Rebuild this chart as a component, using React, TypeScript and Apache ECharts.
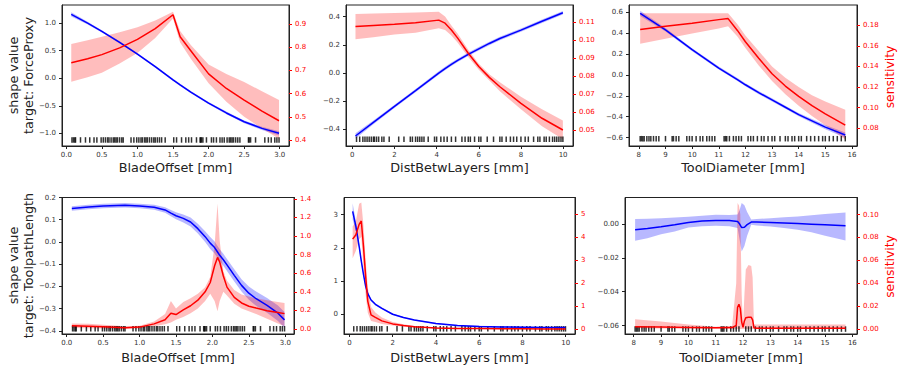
import React, { useEffect, useRef } from 'react';
import * as echarts from 'echarts';

// ---------- Rug (observed feature values) ----------
const rugBladeOffset = [0.08, 0.1, 0.12, 0.13, 0.2, 0.27, 0.33, 0.39, 0.43, 0.49, 0.52, 0.55, 0.58, 0.6, 0.63, 0.66, 0.68, 0.7, 0.72, 0.75, 0.78, 0.8, 0.91, 0.95, 0.99, 1.02, 1.05, 1.07, 1.1, 1.12, 1.14, 1.17, 1.2, 1.23, 1.25, 1.28, 1.31, 1.34, 1.39, 1.51, 1.55, 1.62, 1.68, 1.72, 1.76, 1.83, 1.88, 1.89, 1.9, 1.92, 1.97, 2.04, 2.07, 2.11, 2.16, 2.19, 2.22, 2.26, 2.29, 2.31, 2.33, 2.35, 2.38, 2.41, 2.44, 2.56, 2.57, 2.59, 2.66, 2.79, 2.84, 2.88, 2.93, 2.96, 2.99];
const rugDistBetwLayers = [0.2, 0.35, 0.5, 0.6, 0.7, 0.8, 0.9, 1.0, 1.05, 1.15, 1.25, 1.4, 1.5, 1.75, 2.2, 2.45, 2.75, 2.85, 3.0, 3.1, 3.2, 3.3, 3.4, 3.6, 3.9, 4.0, 4.2, 4.35, 4.5, 4.7, 4.9, 5.2, 5.35, 5.5, 5.6, 5.8, 6.0, 6.1, 6.4, 6.7, 7.0, 7.1, 7.3, 7.5, 7.65, 7.8, 8.0, 8.2, 8.35, 8.6, 8.8, 8.9, 9.1, 9.2, 9.35, 9.5, 9.6, 9.7, 9.8, 9.9, 9.99];
const rugToolDiameter = [8.05, 8.1, 8.15, 8.2, 8.3, 8.38, 8.45, 8.55, 8.65, 8.75, 9.0, 9.25, 9.3, 9.4, 9.5, 9.8, 9.9, 10.0, 10.15, 10.3, 10.4, 10.55, 10.65, 10.75, 10.85, 11.2, 11.25, 11.3, 11.4, 11.55, 11.65, 11.75, 11.85, 12.1, 12.2, 12.3, 12.45, 12.6, 12.7, 12.85, 13.0, 13.1, 13.3, 13.5, 13.6, 13.75, 13.85, 14.0, 14.1, 14.3, 14.45, 14.6, 14.75, 14.9, 15.0, 15.15, 15.3, 15.45, 15.6, 15.75];
const rugLevels = [-1.12, -0.47, -0.61, -0.39, -0.44, -0.062];

// ---------- Panel 1: BladeOffset -> ForceProxy ----------
const p1X = [0.07, 0.3, 0.5, 0.75, 1.0, 1.25, 1.5, 1.6, 1.75, 2.0, 2.25, 2.5, 2.75, 2.99];
const p1Blue = [1.16, 1.0, 0.85, 0.65, 0.44, 0.21, -0.03, -0.12, -0.25, -0.45, -0.63, -0.79, -0.91, -1.0];
const p1BlueLo = [1.12, 0.975, 0.83, 0.63, 0.42, 0.19, -0.05, -0.14, -0.27, -0.47, -0.655, -0.815, -0.94, -1.04];
const p1BlueHi = [1.2, 1.025, 0.87, 0.67, 0.46, 0.23, -0.01, -0.1, -0.23, -0.43, -0.605, -0.765, -0.88, -0.96];
const p1Red = [0.733, 0.75, 0.768, 0.797, 0.834, 0.88, 0.94, 0.845, 0.785, 0.685, 0.622, 0.572, 0.524, 0.483];
const p1RedLo = [0.651, 0.67, 0.69, 0.73, 0.775, 0.84, 0.924, 0.82, 0.75, 0.645, 0.565, 0.5, 0.45, 0.405];
const p1RedHi = [0.814, 0.83, 0.845, 0.865, 0.886, 0.915, 0.953, 0.87, 0.81, 0.725, 0.685, 0.65, 0.61, 0.572];

// ---------- Panel 2: DistBetwLayers -> ForceProxy ----------
const p2X = [0.15, 1, 2, 3, 4.1, 4.4, 4.7, 5, 5.5, 6, 6.5, 7, 8, 9, 9.99];
const p2Blue = [-0.447, -0.35, -0.237, -0.125, 0.0, 0.032, 0.062, 0.09, 0.133, 0.172, 0.21, 0.245, 0.305, 0.368, 0.428];
const p2BlueLo = [-0.467, -0.363, -0.249, -0.137, -0.012, 0.02, 0.05, 0.078, 0.121, 0.16, 0.198, 0.233, 0.293, 0.356, 0.416];
const p2BlueHi = [-0.427, -0.337, -0.225, -0.113, 0.012, 0.044, 0.074, 0.102, 0.145, 0.184, 0.222, 0.257, 0.317, 0.38, 0.44];
const p2Red = [0.1074, 0.108, 0.1087, 0.1095, 0.111, 0.1093, 0.1055, 0.101, 0.0926, 0.0852, 0.0792, 0.074, 0.0648, 0.0565, 0.05];
const p2RedLo = [0.1004, 0.1015, 0.103, 0.104, 0.1065, 0.1055, 0.1025, 0.0985, 0.0905, 0.0835, 0.0775, 0.0715, 0.0615, 0.052, 0.0448];
const p2RedHi = [0.1144, 0.1147, 0.115, 0.1153, 0.1157, 0.113, 0.108, 0.1035, 0.0945, 0.0868, 0.081, 0.0765, 0.0685, 0.0615, 0.0552];

// ---------- Panel 3: ToolDiameter -> ForceProxy ----------
const p3X = [8.05, 9, 10, 11, 11.35, 11.7, 12, 12.5, 13, 13.5, 14, 14.5, 15, 15.75];
const p3Blue = [0.587, 0.43, 0.24, 0.065, 0.01, -0.045, -0.095, -0.17, -0.24, -0.31, -0.38, -0.44, -0.5, -0.575];
const p3BlueLo = [0.562, 0.413, 0.225, 0.05, -0.005, -0.06, -0.11, -0.185, -0.255, -0.325, -0.395, -0.457, -0.52, -0.6];
const p3BlueHi = [0.612, 0.447, 0.255, 0.08, 0.025, -0.03, -0.08, -0.155, -0.225, -0.295, -0.365, -0.423, -0.48, -0.55];
const p3Red = [0.176, 0.179, 0.182, 0.1855, 0.1865, 0.175, 0.164, 0.148, 0.133, 0.121, 0.111, 0.102, 0.094, 0.083];
const p3RedLo = [0.162, 0.167, 0.172, 0.177, 0.179, 0.169, 0.158, 0.141, 0.126, 0.113, 0.102, 0.092, 0.083, 0.069];
const p3RedHi = [0.1917, 0.1917, 0.1917, 0.1917, 0.1917, 0.181, 0.17, 0.155, 0.14, 0.129, 0.12, 0.112, 0.106, 0.098];

// ---------- Panel 4: BladeOffset -> ToolpathLength ----------
const p4X = [0.07, 0.3, 0.5, 0.8, 1.0, 1.2, 1.35, 1.43, 1.5, 1.6, 1.7, 1.8, 1.9, 1.97, 2.03, 2.07, 2.1, 2.15, 2.2, 2.3, 2.4, 2.5, 2.6, 2.75, 2.9, 2.99];
const p4Blue = [0.151, 0.157, 0.162, 0.165, 0.162, 0.156, 0.144, 0.13, 0.118, 0.106, 0.09, 0.06, 0.024, -0.005, -0.025, -0.045, -0.06, -0.08, -0.103, -0.15, -0.195, -0.23, -0.255, -0.285, -0.32, -0.35];
const p4BlueLo = [0.141, 0.147, 0.152, 0.155, 0.152, 0.145, 0.132, 0.116, 0.102, 0.088, 0.07, 0.038, 0.0, -0.032, -0.052, -0.072, -0.087, -0.107, -0.13, -0.178, -0.223, -0.26, -0.287, -0.318, -0.355, -0.385];
const p4BlueHi = [0.161, 0.167, 0.172, 0.175, 0.172, 0.167, 0.156, 0.144, 0.134, 0.124, 0.11, 0.082, 0.048, 0.022, 0.002, -0.018, -0.033, -0.053, -0.076, -0.122, -0.167, -0.2, -0.223, -0.252, -0.285, -0.315];
const p4Red = [0.036, 0.03, 0.025, 0.012, 0.02, 0.055, 0.1, 0.17, 0.155, 0.205, 0.25, 0.31, 0.4, 0.5, 0.68, 0.77, 0.72, 0.57, 0.45, 0.34, 0.28, 0.245, 0.225, 0.197, 0.178, 0.165];
const p4RedLo = [0.01, 0.008, 0.006, 0.0, 0.005, 0.03, 0.05, 0.07, 0.1, 0.13, 0.17, 0.22, 0.3, 0.38, 0.3, 0.19, 0.3, 0.4, 0.36, 0.27, 0.22, 0.19, 0.16, 0.11, 0.06, 0.03];
const p4RedHi = [0.06, 0.055, 0.045, 0.03, 0.035, 0.08, 0.16, 0.3, 0.22, 0.29, 0.33, 0.38, 0.45, 0.56, 0.9, 1.35, 0.95, 0.62, 0.52, 0.42, 0.37, 0.35, 0.33, 0.31, 0.29, 0.28];

// ---------- Panel 5: DistBetwLayers -> ToolpathLength ----------
const p5X = [0.15, 0.3, 0.45, 0.55, 0.65, 0.75, 0.85, 1.0, 1.2, 1.5, 2, 2.5, 3, 4, 5, 6, 7, 8, 9, 9.99];
const p5Blue = [3.1, 2.65, 2.05, 1.6, 1.2, 0.85, 0.62, 0.43, 0.3, 0.18, 0.0, -0.1, -0.17, -0.28, -0.34, -0.37, -0.385, -0.39, -0.4, -0.4];
const p5BlueLo = [2.85, 2.5, 1.97, 1.54, 1.15, 0.81, 0.58, 0.39, 0.27, 0.15, -0.02, -0.12, -0.19, -0.3, -0.36, -0.39, -0.405, -0.41, -0.42, -0.42];
const p5BlueHi = [3.35, 2.8, 2.13, 1.66, 1.25, 0.89, 0.66, 0.47, 0.33, 0.21, 0.02, -0.08, -0.15, -0.26, -0.32, -0.35, -0.365, -0.37, -0.38, -0.38];
const p5Red = [3.91, 4.1, 4.55, 4.7, 3.6, 2.3, 1.2, 0.61, 0.5, 0.35, 0.22, 0.15, 0.1, 0.04, 0.02, 0.015, 0.01, 0.005, 0.003, 0.002];
const p5RedLo = [3.08, 3.4, 3.9, 4.0, 2.7, 1.5, 0.7, 0.35, 0.3, 0.22, 0.15, 0.1, 0.07, 0.02, 0.01, 0.005, 0.003, 0.001, 0.0, 0.0];
const p5RedHi = [4.46, 4.7, 5.45, 5.5, 4.5, 3.0, 1.8, 0.95, 0.72, 0.5, 0.3, 0.2, 0.13, 0.06, 0.03, 0.02, 0.015, 0.01, 0.01, 0.01];

// ---------- Panel 6: ToolDiameter -> ToolpathLength ----------
const p6X = [8.05, 8.5, 9, 9.5, 10, 10.5, 11, 11.5, 11.8, 11.87, 11.95, 12.05, 12.15, 12.3, 12.5, 13, 13.5, 14, 14.5, 15, 15.75];
const p6Blue = [-0.0035, -0.0027, -0.0017, -0.0005, 0.0008, 0.0017, 0.002, 0.0019, 0.0014, 0.0, -0.0022, -0.002, -0.0005, 0.001, 0.001, 0.0008, 0.0005, 0.0002, -0.0002, -0.0006, -0.0012];
const p6BlueLo = [-0.01, -0.0085, -0.0061, -0.0045, -0.0022, -0.0015, -0.0012, -0.0014, -0.0025, -0.009, -0.0163, -0.013, -0.007, -0.0005, -0.001, -0.0016, -0.0025, -0.0035, -0.005, -0.0071, -0.0098];
const p6BlueHi = [0.0028, 0.003, 0.0033, 0.0037, 0.0042, 0.0048, 0.0053, 0.0052, 0.0055, 0.008, 0.0122, 0.011, 0.007, 0.0025, 0.0028, 0.0033, 0.0038, 0.0043, 0.005, 0.0058, 0.0067];
const p6RedX = [8.05, 9, 10, 11, 11.6, 11.75, 11.8, 11.85, 11.9, 11.95, 12.0, 12.05, 12.1, 12.2, 12.3, 12.35, 12.4, 12.5, 13, 14, 15, 15.75];
const p6Red = [0.002, 0.0017, 0.0013, 0.001, 0.0012, 0.003, 0.019, 0.0215, 0.018, 0.006, 0.0015, 0.007, 0.0098, 0.0102, 0.0102, 0.008, 0.001, 0.0006, 0.0006, 0.0006, 0.0006, 0.0006];
const p6RedLo = [0.0006, 0.0005, 0.0003, 0.0002, 0.0, 0.0, 0.0, 0.0, 0.0, 0.0, 0.0, 0.0, 0.0, 0.0, 0.0, 0.0, 0.0, 0.0, 0.0, 0.0, 0.0, 0.0];
const p6RedHi = [0.0085, 0.0065, 0.004, 0.002, 0.0025, 0.04, 0.11, 0.108, 0.1, 0.03, 0.003, 0.03, 0.052, 0.056, 0.055, 0.045, 0.004, 0.004, 0.004, 0.004, 0.004, 0.004];

// ---------- Tick values ----------
const xTicksBlade = [0, 0.5, 1, 1.5, 2, 2.5, 3];
const xTicksDist = [0, 2, 4, 6, 8, 10];
const xTicksTool = [8, 9, 10, 11, 12, 13, 14, 15, 16];
const yLeftTicks1 = [-1, -0.5, 0, 0.5, 1];
const yRightTicks1 = [0.4, 0.5, 0.6, 0.7, 0.8, 0.9];
const yLeftTicks2 = [-0.4, -0.2, 0, 0.2, 0.4];
const yRightTicks2 = [0.05, 0.06, 0.07, 0.08, 0.09, 0.1, 0.11];
const yLeftTicks3 = [-0.6, -0.4, -0.2, 0, 0.2, 0.4, 0.6];
const yRightTicks3 = [0.08, 0.1, 0.12, 0.14, 0.16, 0.18];
const yLeftTicks4 = [-0.4, -0.3, -0.2, -0.1, 0, 0.1, 0.2];
const yRightTicks4 = [0, 0.2, 0.4, 0.6, 0.8, 1.0, 1.2, 1.4];
const yLeftTicks5 = [0, 1, 2, 3];
const yRightTicks5 = [0, 1, 2, 3, 4, 5];
const yLeftTicks6 = [-0.06, -0.04, -0.02, 0];
const yRightTicks6 = [0, 0.02, 0.04, 0.06, 0.08, 0.1];

const FONT = 'DejaVu Sans';

function fmt(dec: number) {
  return (v: number) => {
    const s = Math.abs(v).toFixed(dec);
    return (v < 0 && parseFloat(s) !== 0 ? '\u2212' : '') + s;
  };
}

function pairs(xs: number[], ys: number[]) {
  return xs.map((x, i) => [x, ys[i]]);
}

export default function App() {
  const ref = useRef<HTMLDivElement>(null);

  useEffect(() => {
    const chart = echarts.init(ref.current!, null, { renderer: 'svg' });

    const panels = [
      { x: p1X, b: p1Blue, bl: p1BlueLo, bh: p1BlueHi, rx: p1X, r: p1Red, rl: p1RedLo, rh: p1RedHi, rug: rugBladeOffset,
        xt: xTicksBlade, xd: 1, ylt: yLeftTicks1, yld: 1, yrt: yRightTicks1, yrd: 1 },
      { x: p2X, b: p2Blue, bl: p2BlueLo, bh: p2BlueHi, rx: p2X, r: p2Red, rl: p2RedLo, rh: p2RedHi, rug: rugDistBetwLayers,
        xt: xTicksDist, xd: 0, ylt: yLeftTicks2, yld: 1, yrt: yRightTicks2, yrd: 2 },
      { x: p3X, b: p3Blue, bl: p3BlueLo, bh: p3BlueHi, rx: p3X, r: p3Red, rl: p3RedLo, rh: p3RedHi, rug: rugToolDiameter,
        xt: xTicksTool, xd: 0, ylt: yLeftTicks3, yld: 1, yrt: yRightTicks3, yrd: 2 },
      { x: p4X, b: p4Blue, bl: p4BlueLo, bh: p4BlueHi, rx: p4X, r: p4Red, rl: p4RedLo, rh: p4RedHi, rug: rugBladeOffset,
        xt: xTicksBlade, xd: 1, ylt: yLeftTicks4, yld: 1, yrt: yRightTicks4, yrd: 1 },
      { x: p5X, b: p5Blue, bl: p5BlueLo, bh: p5BlueHi, rx: p5X, r: p5Red, rl: p5RedLo, rh: p5RedHi, rug: rugDistBetwLayers,
        xt: xTicksDist, xd: 0, ylt: yLeftTicks5, yld: 0, yrt: yRightTicks5, yrd: 0 },
      { x: p6X, b: p6Blue, bl: p6BlueLo, bh: p6BlueHi, rx: p6RedX, r: p6Red, rl: p6RedLo, rh: p6RedHi, rug: rugToolDiameter,
        xt: xTicksTool, xd: 0, ylt: yLeftTicks6, yld: 2, yrt: yRightTicks6, yrd: 2 },
    ];

    // layout (pixels) and axis extents
    const grids = [
      { left: 62, top: 5, width: 227, height: 141 },
      { left: 346, top: 5, width: 227, height: 141 },
      { left: 629, top: 5, width: 228, height: 141 },
      { left: 62, top: 197.5, width: 232, height: 136.5 },
      { left: 344, top: 197.5, width: 231, height: 136.5 },
      { left: 625, top: 197.5, width: 232, height: 136.5 },
    ];
    const xRange = [[-0.06, 3.13], [-0.3, 10.47], [7.63, 16.19], [-0.065, 3.12], [-0.25, 10.43], [7.68, 16.17]];
    const yLeftRange = [[-1.23, 1.33], [-0.518, 0.483], [-0.68, 0.667], [-0.4135, 0.2], [-0.595, 3.52], [-0.0649, 0.0155]];
    const yRightRange = [[0.374, 0.982], [0.0411, 0.1194], [0.0628, 0.1997], [-0.054, 1.414], [-0.22, 5.72], [-0.0044, 0.1149]];

    const axisColor = '#222';
    const xAxis: any[] = [];
    const yAxis: any[] = [];
    const series: any[] = [];

    panels.forEach((p, i) => {
      xAxis.push({
        type: 'value', gridIndex: i, min: xRange[i][0], max: xRange[i][1],
        axisLine: { show: true, onZero: false, lineStyle: { color: axisColor, width: 1 } },
        axisTick: { show: true, length: 3, lineStyle: { color: axisColor }, customValues: p.xt },
        axisLabel: { show: true, customValues: p.xt, formatter: fmt(p.xd), fontSize: 7, fontFamily: FONT, color: '#333', margin: 5 },
        splitLine: { show: false },
      });
      yAxis.push({
        type: 'value', gridIndex: i, position: 'left', min: yLeftRange[i][0], max: yLeftRange[i][1],
        axisLine: { show: true, onZero: false, lineStyle: { color: axisColor, width: 1 } },
        axisTick: { show: true, length: 3, lineStyle: { color: axisColor }, customValues: p.ylt },
        axisLabel: { show: true, customValues: p.ylt, formatter: fmt(p.yld), fontSize: 7, fontFamily: FONT, color: '#333', margin: 6 },
        splitLine: { show: false },
      });
      yAxis.push({
        type: 'value', gridIndex: i, position: 'right', min: yRightRange[i][0], max: yRightRange[i][1],
        axisLine: { show: true, onZero: false, lineStyle: { color: axisColor, width: 1 } },
        axisTick: { show: true, length: 3, lineStyle: { color: '#ff0000' }, customValues: p.yrt },
        axisLabel: { show: true, customValues: p.yrt, formatter: fmt(p.yrd), fontSize: 7, fontFamily: FONT, color: '#ff0000', margin: 6 },
        splitLine: { show: false },
      });

      const yl = 2 * i;
      const yr = 2 * i + 1;
      const band = (xs: number[], lo: number[], hi: number[], yIdx: number, color: string) => ({
        type: 'custom', xAxisIndex: i, yAxisIndex: yIdx, silent: true, clip: true,
        data: [[xs[0], lo[0]]],
        renderItem: (_params: any, api: any) => {
          const pts: number[][] = [];
          for (let k = 0; k < xs.length; k++) pts.push(api.coord([xs[k], hi[k]]));
          for (let k = xs.length - 1; k >= 0; k--) pts.push(api.coord([xs[k], lo[k]]));
          return { type: 'polygon', shape: { points: pts }, style: { fill: color } };
        },
      });
      series.push(band(p.x, p.bl, p.bh, yl, 'rgba(0,0,255,0.28)'));
      series.push({
        type: 'line', xAxisIndex: i, yAxisIndex: yl, data: pairs(p.x, p.b), symbol: 'none', silent: true,
        lineStyle: { color: '#0000ff', width: 1.5 }, smooth: false,
      });
      series.push({
        type: 'scatter', xAxisIndex: i, yAxisIndex: yl, data: p.rug.map((v) => [v, rugLevels[i]]),
        symbol: 'rect', symbolSize: [1.5, 5.5], itemStyle: { color: '#000' }, silent: true,
      });
      series.push(band(p.rx, p.rl, p.rh, yr, 'rgba(255,0,0,0.26)'));
      series.push({
        type: 'line', xAxisIndex: i, yAxisIndex: yr, data: pairs(p.rx, p.r), symbol: 'none', silent: true,
        lineStyle: { color: '#ff0000', width: 1.5 }, smooth: false,
      });
    });

    const txt = (text: string, x: number, y: number, size: number, color: string, rot: number) => ({
      type: 'text', x, y, rotation: rot, silent: true,
      style: {
        text, fill: color, fontSize: size, fontFamily: FONT,
        textAlign: 'center', textVerticalAlign: 'middle', align: 'center', verticalAlign: 'middle',
      },
    });
    const R = Math.PI / 2;
    const graphic = [
      txt('shape value', 13, 75.5, 12.8, '#222', R),
      txt('target: ForceProxy', 28.5, 75.5, 12.8, '#222', R),
      txt('shape value', 13, 265.5, 12.8, '#222', R),
      txt('target: ToolpathLength', 28.5, 265.5, 12.8, '#222', R),
      txt('sensitivity', 890, 77, 12.3, '#ff0000', R),
      txt('sensitivity', 890, 266.5, 12.3, '#ff0000', R),
      txt('BladeOffset [mm]', 175.5, 167.5, 12.8, '#222', 0),
      txt('DistBetwLayers [mm]', 459.5, 167.5, 12.8, '#222', 0),
      txt('ToolDiameter [mm]', 743, 167.5, 12.8, '#222', 0),
      txt('BladeOffset [mm]', 178, 357, 12.8, '#222', 0),
      txt('DistBetwLayers [mm]', 459.5, 357, 12.8, '#222', 0),
      txt('ToolDiameter [mm]', 741, 357, 12.8, '#222', 0),
    ];

    chart.setOption({
      animation: false,
      backgroundColor: '#ffffff',
      grid: grids.map((g) => ({ ...g, show: true, borderColor: axisColor, borderWidth: 1, backgroundColor: 'transparent', containLabel: false })),
      xAxis,
      yAxis,
      series,
      graphic,
    });

    return () => chart.dispose();
  }, []);

  return <div ref={ref} style={{ position: 'absolute', left: 0, top: 0, width: 899, height: 367 }} />;
}
